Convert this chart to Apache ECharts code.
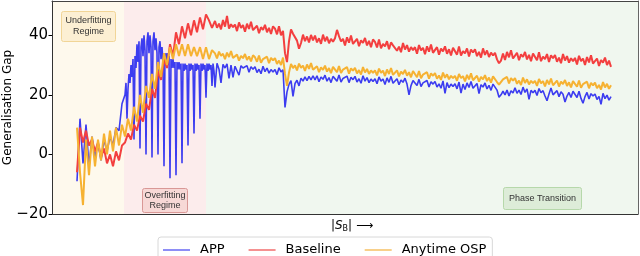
<!DOCTYPE html>
<html>
<head>
<meta charset="utf-8">
<script src="https://cdn.jsdelivr.net/npm/echarts@6/dist/echarts.min.js"></script>
<style>html,body{margin:0;padding:0;background:#fff}#c{width:640px;height:256px}</style>
</head>
<body>
<div id="c"></div>
<script>
// Series names (legend order)
var seriesNames = ['APP', 'Baseline', 'Anytime OSP'];
// y tick labels shown
var yTicks = [-20, 0, 20, 40];
// Sample spacing (|S_B| progress units) for early, fine (APP collapses) and late samples
var earlyStep = 3;
var fineStep = 1;
var lateStep = 2;

// ---- APP ----
var appEarly = [-9, 12, -3, 10, -4, 6, -1, 4, -2, 5, 1, 6, 3, 9, 8, 17];
var appFine = [
  20, 24, 12, 22, 27, 24, 30, 26, 32, 5,
  33, 29, 37, 31, 38, 2, 36, 39, 33, 40,
  35, 0, 38, 41, 34, 40, 36, -1, 38, 41,
  35, 39, 34, 0, 36, 38, 32, 36, 31, -4,
  34, 31, 34, 30, 33, -8, 32, 29, 32, 29,
  31, -7, 31, 28.5, 31, 28.5, 30.5, -3, 30.5, 28,
  30.5, 28.5, 30, 3, 30.5, 28, 30.5, 28.5, 30, 7,
  30.5, 28, 30.5, 28.5, 30, 12, 30.5, 28, 30.5, 28.5,
  30, 19, 30.5, 28, 30.5, 28.5, 30, 23, 30.5, 28
];
var appLate = [
  22.5, 30.6, 28.6, 24.0, 30.2, 29.0, 30.4, 25.5, 30.0, 25.9,
  29.6, 28.1, 26.6, 29.8, 29.0, 28.4, 29.8, 27.6, 29.4, 28.6,
  29.4, 27.5, 28.6, 27.1, 29.6, 27.8, 29.0, 27.3, 28.5, 27.7,
  28.5, 26.8, 29.1, 27.7, 28.4, 15.8, 21.0, 23.5, 24.8, 19.5,
  23.8, 24.9, 23.0, 25.6, 24.6, 26.0, 24.8, 26.2, 25.0, 26.4,
  25.0, 26.4, 24.4, 26.0, 25.2, 26.6, 24.6, 25.8, 24.1, 26.2,
  26.1, 24.6, 26.7, 24.3, 25.5, 24.9, 26.3, 24.1, 25.9, 25.1,
  26.2, 24.3, 25.4, 23.9, 26.4, 24.6, 25.8, 24.1, 25.3, 24.5,
  25.4, 23.7, 26.0, 24.6, 25.3, 23.5, 25.7, 24.2, 26.2, 23.9,
  24.0, 25.4, 23.4, 25.0, 24.2, 25.6, 23.6, 20.0, 23.1, 24.8,
  24.6, 23.1, 25.2, 22.8, 24.0, 23.4, 24.8, 22.6, 24.4, 23.6,
  24.5, 22.6, 23.7, 22.2, 24.7, 20.5, 24.1, 22.4, 23.6, 22.8,
  23.7, 22.0, 24.3, 20.6, 23.6, 21.8, 24.0, 22.5, 24.5, 22.2,
  22.4, 23.8, 20.4, 23.4, 22.6, 24.0, 22.0, 23.2, 21.5, 23.6,
  23.1, 21.6, 19.2, 20.0, 21.2, 20.0, 21.6, 19.6, 21.4, 20.6,
  22.4, 20.5, 21.6, 20.1, 22.6, 20.8, 22.0, 18.5, 21.5, 20.7,
  21.5, 19.8, 22.1, 20.7, 21.4, 19.6, 18.0, 20.3, 22.3, 20.0,
  20.0, 21.4, 19.4, 21.0, 20.2, 17.6, 19.6, 20.8, 19.1, 21.2,
  20.6, 19.1, 21.2, 18.8, 17.2, 19.4, 20.8, 18.6, 20.4, 19.6,
  20.3, 18.4, 19.5, 16.8, 20.5, 18.7, 19.9, 18.2, 19.4
];

// ---- Baseline ----
var baselineEarly = [
  -6, 9, 4, 8, 3, 5, 1, 4, -1, 2,
  -3, 0, -4, 1, -2, 3, 4, 7, 5, 10,
  8, 13, 11, 17, 15, 22, 19, 28, 25, 32,
  29, 37, 33, 41, 37, 43, 39, 44, 40, 45,
  41, 46, 42, 47, 45, 42.5
];
var baselineLate = [
  44.8, 42.5, 43.9, 42.0, 45.1, 42.9, 46.5, 42.2, 43.7, 42.7,
  43.6, 41.4, 44.3, 42.5, 43.4, 41.2, 43.9, 42.1, 44.5, 41.7,
  41.5, 43.2, 40.7, 42.7, 41.8, 43.5, 41.0, 42.5, 40.4, 43.0,
  42.2, 40.3, 43.0, 40.0, 41.5, 34.0, 31.0, 38.0, 42.0, 40.5,
  40.8, 38.2, 35.5, 37.4, 40.2, 38.0, 39.6, 37.6, 40.1, 38.3,
  39.9, 37.6, 39.0, 37.1, 40.2, 38.0, 39.5, 37.3, 38.8, 37.8,
  39.0, 41.8, 39.7, 37.9, 38.8, 36.6, 39.3, 37.5, 39.9, 37.1,
  37.1, 38.8, 36.3, 38.3, 37.4, 39.1, 36.6, 38.1, 36.0, 38.6,
  37.8, 35.9, 38.6, 35.6, 37.1, 36.3, 38.0, 35.3, 37.6, 36.6,
  37.1, 34.8, 36.2, 34.3, 37.4, 35.2, 36.7, 34.5, 36.0, 35.0,
  36.0, 33.8, 36.7, 34.9, 35.8, 33.6, 36.3, 34.5, 36.9, 34.1,
  34.3, 36.0, 33.5, 35.5, 34.6, 36.3, 33.8, 35.3, 33.2, 35.8,
  35.4, 33.5, 36.2, 33.2, 34.7, 33.9, 35.6, 32.9, 35.2, 34.2,
  35.3, 33.0, 34.4, 32.5, 35.6, 33.4, 34.9, 32.7, 34.2, 33.2,
  34.1, 31.9, 30.6, 31.5, 33.9, 31.7, 34.4, 32.6, 35.0, 32.2,
  32.4, 34.1, 31.6, 33.6, 32.7, 34.4, 31.9, 33.4, 31.3, 33.9,
  33.5, 31.6, 34.3, 31.3, 32.8, 32.0, 33.7, 31.0, 33.3, 32.3,
  33.4, 31.1, 32.5, 30.6, 33.7, 31.5, 33.0, 30.8, 32.3, 31.3,
  32.4, 30.2, 33.1, 31.3, 32.2, 30.0, 32.7, 30.9, 33.3, 30.5,
  30.5, 32.2, 29.7, 31.7, 30.8, 32.5, 30.0, 31.5, 29.4
];

// ---- Anytime OSP ----
var anytimeEarly = [
  9, -6, -17, 5, -7, 6, -4, 5, -2, 7,
  0, 8, 1, 9, 3, 10, 6, 12, 8, 16,
  11, 20, 14, 23, 19, 27, 22, 31, 26, 34,
  30, 36, 32, 37, 33, 37, 33, 37, 33, 36,
  33, 36, 32, 36, 32, 35
];
var anytimeLate = [
  33.9, 32.2, 34.5, 33.1, 33.8, 32.0, 34.2, 32.7, 34.7, 32.4,
  32.1, 33.5, 31.5, 33.1, 32.3, 33.7, 31.7, 32.9, 31.2, 33.3,
  32.6, 31.1, 33.2, 30.8, 32.0, 31.4, 32.8, 30.6, 32.4, 31.6,
  32.3, 30.4, 31.5, 30.0, 32.5, 27.0, 23.0, 27.5, 30.4, 29.0,
  29.9, 28.2, 30.5, 29.1, 29.8, 28.0, 30.2, 28.7, 30.7, 28.4,
  28.2, 29.6, 27.6, 29.2, 28.4, 29.8, 27.8, 29.0, 27.3, 29.4,
  29.1, 27.6, 29.7, 27.3, 28.5, 27.9, 29.3, 27.1, 28.9, 28.1,
  29.1, 27.2, 28.3, 26.8, 29.3, 27.5, 28.7, 27.0, 28.2, 27.4,
  28.2, 26.5, 28.8, 27.4, 28.1, 26.3, 28.5, 27.0, 29.0, 26.7,
  26.8, 28.2, 26.2, 27.8, 27.0, 28.4, 26.4, 27.6, 25.9, 28.0,
  27.4, 25.9, 28.0, 25.6, 26.8, 26.2, 27.6, 25.4, 27.2, 26.4,
  27.3, 25.4, 26.5, 25.0, 27.5, 25.7, 26.9, 25.2, 26.4, 25.6,
  26.4, 24.7, 27.0, 25.6, 26.3, 24.5, 26.7, 25.2, 27.2, 24.9,
  25.0, 26.4, 24.4, 26.0, 25.2, 26.6, 24.6, 25.8, 24.1, 26.2,
  25.8, 24.3, 23.4, 24.0, 25.2, 24.6, 26.0, 23.8, 25.6, 24.8,
  25.6, 23.7, 24.8, 23.3, 25.8, 24.0, 25.2, 23.5, 24.7, 23.9,
  24.7, 23.0, 25.3, 23.9, 24.6, 22.8, 25.0, 23.5, 25.5, 23.2,
  23.4, 24.8, 22.8, 24.4, 23.6, 25.0, 23.0, 24.2, 22.5, 24.6,
  24.2, 22.7, 24.8, 22.4, 23.6, 23.0, 24.4, 22.2, 24.0, 23.2,
  24.1, 22.2, 23.3, 21.8, 24.3, 22.5, 23.7, 22.0, 23.2
];

// Regime boundaries in progress units (axis starts before the first sample)
var regimeNames = ['Underfitting', 'Overfitting', 'Phase Transition'];
var regimeBounds = [-25, 47, 129, 561];

function segment(arr, start, step) {
  return arr.map(function (v, i) { return [start + i * step, v]; });
}
function build(parts) {
  var out = [], pos = 0;
  parts.forEach(function (p) { out = out.concat(segment(p[0], pos, p[1])); pos += p[0].length * p[1]; });
  return out;
}
var dataArrs = [
  build([[appEarly, earlyStep], [appFine, fineStep], [appLate, lateStep]]),
  build([[baselineEarly, earlyStep], [baselineLate, lateStep]]),
  build([[anytimeEarly, earlyStep], [anytimeLate, lateStep]])
];

var chart = echarts.init(document.getElementById('c'), null, {renderer: 'canvas'});
var lineColors = ['#3c3cf0', '#f33f3f', '#f6b232'];
var lineWidths = [1.6, 2, 2];
var legendColors = ['#8e8ef6', '#f59191', '#f8d08a'];
var regimeColors = ['#fef9ed', '#fcecec', '#f0f7ef'];

var series = seriesNames.map(function (n, k) {
  return {
    name: n, type: 'line', data: dataArrs[k], symbol: 'none', showSymbol: false,
    lineStyle: {width: lineWidths[k], color: lineColors[k]}, itemStyle: {color: legendColors[k]},
    animation: false, z: 3 + k
  };
});
series.unshift({
  type: 'line', data: [], z: 1, silent: true,
  markArea: {
    silent: true,
    data: regimeNames.map(function (r, j) {
      return [{xAxis: regimeBounds[j], itemStyle: {color: regimeColors[j]}}, {xAxis: regimeBounds[j + 1]}];
    })
  }
});

var boxFont = '9px Liberation Sans, Arial, sans-serif';
function labelBox(left, top, w, h, text, lh, bg, border) {
  return {
    type: 'group', left: left, top: top, z: 20, width: w, height: h,
    children: [
      {type: 'rect', z: 20, shape: {x: 0, y: 0, width: w, height: h, r: 2},
        style: {fill: bg, stroke: border, lineWidth: 1}},
      {type: 'text', z: 21, x: w / 2, y: h / 2,
        style: {text: text, font: boxFont, fill: '#333', align: 'center', verticalAlign: 'middle', lineHeight: lh}}
    ]
  };
}

chart.setOption({
  animation: false,
  grid: {left: 52, right: 2, top: 1, bottom: 42, containLabel: false, outerBoundsMode: 'none'},
  xAxis: [{
    type: 'value', min: regimeBounds[0], max: regimeBounds[3], z: 10,
    axisLine: {show: true, onZero: false, lineStyle: {color: '#333', width: 1}},
    axisTick: {show: false}, axisLabel: {show: false}, splitLine: {show: false},
    name: '|{it|S}{sub|B}| ⟶', nameLocation: 'middle', nameGap: 5, nameMoveOverlap: false,
    nameTextStyle: {color: '#000', fontSize: 12, fontFamily: 'DejaVu Sans', verticalAlign: 'top', padding: [0, 0, 0, 14],
      rich: {it: {fontStyle: 'italic', fontSize: 12, fontFamily: 'DejaVu Sans', color: '#000'},
             sub: {fontSize: 8, fontFamily: 'DejaVu Sans', verticalAlign: 'bottom', padding: [6, 0, 0, 0], color: '#000'}}}
  }, {
    type: 'value', position: 'top', min: regimeBounds[0], max: regimeBounds[3], z: 10,
    axisLine: {show: true, onZero: false, lineStyle: {color: '#444', width: 1}},
    axisTick: {show: false}, axisLabel: {show: false}, splitLine: {show: false}
  }],
  yAxis: [{
    type: 'value', min: -20, max: 51.5, interval: 20, z: 10,
    axisLine: {show: true, onZero: false, lineStyle: {color: '#333', width: 1}},
    axisTick: {show: true, length: 3.5, lineStyle: {color: '#000'}},
    axisLabel: {color: '#000', fontSize: 15, fontFamily: 'DejaVu Sans', margin: 4, showMaxLabel: false,
      formatter: function (v) { return yTicks.indexOf(v) >= 0 ? String(v).replace('-', '\u2212') : ''; }},
    splitLine: {show: false},
    name: 'Generalisation Gap', nameLocation: 'middle', nameGap: 38, nameMoveOverlap: false,
    nameTextStyle: {color: '#000', fontSize: 12, fontFamily: 'DejaVu Sans'}
  }, {
    type: 'value', position: 'right', min: -20, max: 51.5, z: 10,
    axisLine: {show: true, onZero: false, lineStyle: {color: '#666', width: 1}},
    axisTick: {show: false}, axisLabel: {show: false}, splitLine: {show: false}
  }],
  legend: {
    data: seriesNames.map(function (n, k) { return {name: n, itemStyle: {color: legendColors[k]}}; }),
    icon: 'rect', left: 158, top: 237, itemWidth: 27, itemHeight: 2, itemGap: 24,
    padding: [5, 6, 5, 5], borderColor: '#d8d8d8', borderWidth: 1, borderRadius: 3,
    textStyle: {color: '#000', fontSize: 13, fontFamily: 'DejaVu Sans', padding: [0, 0, 0, 5], lineHeight: 16}
  },
  graphic: [
    labelBox(61, 11, 54, 30, regimeNames[0] + '\nRegime', 11, '#fcefd3', '#f1d597'),
    labelBox(142, 188, 45, 24, regimeNames[1] + '\nRegime', 10, '#f7d8d6', '#d99896'),
    labelBox(503, 187, 78, 22, regimeNames[2], 11, '#ddecd8', '#b6d8aa')
  ],
  series: series
});
</script>
</body>
</html>
